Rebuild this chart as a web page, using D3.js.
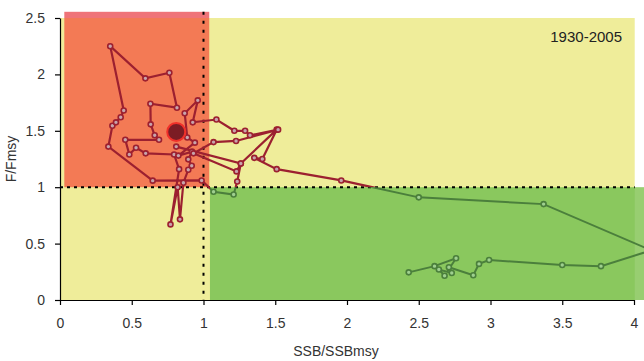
<!DOCTYPE html>
<html>
<head>
<meta charset="utf-8">
<script src="https://cdn.jsdelivr.net/npm/d3@7"></script>
<style>
body { margin: 0; background: #fff; }
text { font-family: "Liberation Sans", Arial, sans-serif; }
</style>
</head>
<body>
<div id="chart"></div>
<script>
// Kobe plot data (SSB/SSBmsy, F/Fmsy), years 1930-2005
var ssb = [2.43, 2.61, 2.76, 2.68, 2.64, 2.73, 2.71, 2.88, 2.92, 2.99, 3.50, 3.77, 4.12, 3.37, 2.50,
	1.96, 1.51, 1.354, 1.41, 1.51, 1.26, 1.235, 1.21, 1.07, 0.987, 0.646, 0.337, 0.365, 0.39, 0.423,
	0.444, 0.35, 0.595, 0.762, 0.815, 0.63, 0.632, 0.66, 0.69, 0.455, 0.483, 0.53, 0.597, 0.795, 0.83,
	0.77, 0.82, 0.836, 0.86, 0.894, 0.918, 0.894, 0.92, 0.825, 0.94, 0.887, 0.869, 0.96, 0.925, 1.09,
	1.215, 1.29, 1.324, 1.52, 1.227, 1.07, 0.93, 1.23, 1.26, 0.81];
var fish = [0.245, 0.30, 0.37, 0.215, 0.27, 0.24, 0.29, 0.22, 0.32, 0.355, 0.31, 0.30, 0.44, 0.85, 0.91,
	1.06, 1.16, 1.26, 1.25, 1.51, 1.21, 1.05, 0.935, 0.96, 1.06, 1.058, 1.36, 1.545, 1.575, 1.62,
	1.68, 2.25, 1.965, 2.015, 1.705, 1.74, 1.557, 1.46, 1.42, 1.42, 1.29, 1.35, 1.30, 1.29, 1.16,
	0.67, 1.0, 0.715, 1.04, 1.155, 1.19, 1.247, 1.315, 1.28, 1.395, 1.44, 1.655, 1.77, 1.575, 1.60,
	1.50, 1.50, 1.46, 1.51, 1.41, 1.40, 1.30, 1.14, 1.21, 1.36];
var current = [0.81, 1.49];
var period = "1930-2005";
var xTicks = [0, 0.5, 1, 1.5, 2, 2.5, 3, 3.5, 4];
var yTicks = [0, 0.5, 1, 1.5, 2, 2.5];

var width = 644, height = 361;
var svg = d3.select("#chart").append("svg").attr("width", width).attr("height", height);

var x = d3.scaleLinear().domain([0, 4]).range([60, 634]);
var y = d3.scaleLinear().domain([0, 2.5]).range([300, 18]);

// Background zones
svg.append("rect").attr("x", x(0)).attr("y", y(2.5))
	.attr("width", x(4.005) - x(0)).attr("height", y(0) - y(2.5)).attr("fill", "#efed9a");
svg.append("rect").attr("x", x(0.03)).attr("y", y(2.555))
	.attr("width", x(1.04) - x(0.03)).attr("height", y(2.5) - y(2.555)).attr("fill", "#ef7479");
svg.append("rect").attr("x", x(0.03)).attr("y", y(2.5))
	.attr("width", x(1.04) - x(0.03)).attr("height", y(1) - y(2.5)).attr("fill", "#f37a55");
svg.append("rect").attr("x", x(1.045)).attr("y", y(1))
	.attr("width", width - x(1.045)).attr("height", y(0) - y(1)).attr("fill", "#8ac85e");
svg.append("rect").attr("x", x(4.005)).attr("y", y(1))
	.attr("width", width - x(4.005)).attr("height", y(0) - y(1)).attr("fill", "#fff").attr("opacity", 0.12);

// Reference lines
svg.append("line").attr("x1", x(0)).attr("x2", x(4.005)).attr("y1", y(1)).attr("y2", y(1))
	.attr("stroke", "#000").attr("stroke-width", 2).attr("stroke-dasharray", "3,4");
svg.append("line").attr("x1", x(1)).attr("x2", x(1)).attr("y1", y(2.555)).attr("y2", y(0))
	.attr("stroke", "#000").attr("stroke-width", 2).attr("stroke-dasharray", "3,6");

// Masks for colouring the path by zone
var defs = svg.append("defs");
defs.append("clipPath").attr("id", "greenClip").append("rect")
	.attr("x", x(1.045)).attr("y", y(1)).attr("width", width).attr("height", y(0) - y(1));
var mask = defs.append("mask").attr("id", "redMask");
mask.append("rect").attr("width", width).attr("height", height).attr("fill", "#fff");
mask.append("rect").attr("x", x(1.045)).attr("y", y(1)).attr("width", width).attr("height", y(0) - y(1)).attr("fill", "#000");

var pts = ssb.map(function (d, i) { return [d, fish[i]]; });
var line = d3.line().x(function (d) { return x(d[0]); }).y(function (d) { return y(d[1]); });

svg.append("path").attr("d", line(pts)).attr("fill", "none")
	.attr("stroke", "#9c2030").attr("stroke-width", 2.2).attr("mask", "url(#redMask)");
svg.append("path").attr("d", line(pts)).attr("fill", "none")
	.attr("stroke", "#4b7f3c").attr("stroke-width", 2).attr("clip-path", "url(#greenClip)");

function isGreen(d) { return d[0] > 1.045 && d[1] < 1; }
svg.selectAll(".pt").data(pts).enter().append("circle")
	.attr("class", "pt")
	.attr("cx", function (d) { return x(d[0]); })
	.attr("cy", function (d) { return y(d[1]); })
	.attr("r", 2.5)
	.attr("fill", function (d) { return isGreen(d) ? "#9fcf90" : "#c7a4ac"; })
	.attr("stroke", function (d) { return isGreen(d) ? "#4b7f3c" : "#9c2030"; })
	.attr("stroke-width", 1.6);

svg.append("circle").attr("cx", x(current[0])).attr("cy", y(current[1])).attr("r", 9)
	.attr("fill", "#7b1c24").attr("stroke", "#f0302a").attr("stroke-width", 2);

// Axes
var xAxis = svg.append("g").attr("transform", "translate(0," + y(0) + ")")
	.call(d3.axisBottom(x).tickValues(xTicks).tickSize(5).tickSizeOuter(0).tickFormat(d3.format("")));
var yAxis = svg.append("g").attr("transform", "translate(" + x(0) + ",0)")
	.call(d3.axisLeft(y).tickValues(yTicks).tickSize(5).tickSizeOuter(0).tickFormat(d3.format("")));
[xAxis, yAxis].forEach(function (a) {
	a.selectAll("path, line").attr("stroke", "#000").attr("stroke-width", 1.2);
	a.selectAll("text").attr("fill", "#333").style("font-size", "14px");
});
xAxis.selectAll("text").attr("dy", "1.45em");
yAxis.selectAll("text").attr("dx", "-0.5em");

svg.append("text").attr("x", 336).attr("y", 356).attr("text-anchor", "middle")
	.attr("fill", "#333").style("font-size", "14px").text("SSB/SSBmsy");
svg.append("text").attr("transform", "translate(16," + y(1.25) + ") rotate(-90)")
	.attr("text-anchor", "middle").attr("fill", "#333").style("font-size", "14px").text("F/Fmsy");
svg.append("text").attr("x", 622).attr("y", 42).attr("text-anchor", "end")
	.attr("fill", "#222").style("font-size", "15px").text(period);
</script>
</body>
</html>
